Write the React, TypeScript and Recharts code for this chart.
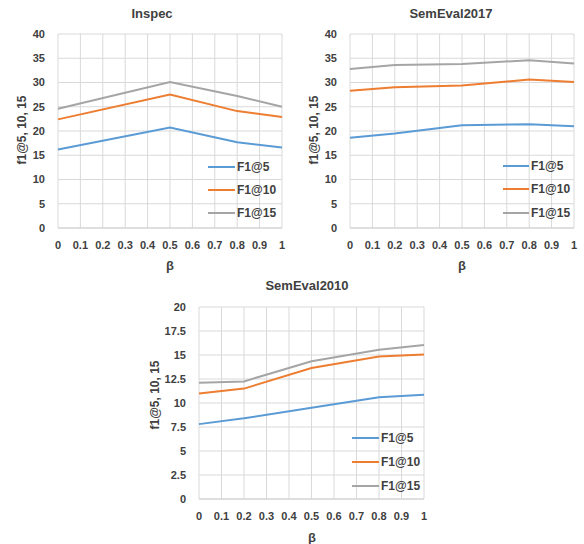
import { LineChart, Line, XAxis, YAxis, CartesianGrid } from 'recharts';

const betas = [0, 0.2, 0.5, 0.8, 1];
const xTicks = [0, 0.1, 0.2, 0.3, 0.4, 0.5, 0.6, 0.7, 0.8, 0.9, 1];
const yTicks40 = [0, 5, 10, 15, 20, 25, 30, 35, 40];
const yTicks20 = [0, 2.5, 5, 7.5, 10, 12.5, 15, 17.5, 20];

const seriesNames = ['F1@5', 'F1@10', 'F1@15'];
const seriesColors = ['#5b9bd5', '#ed7d31', '#a5a5a5'];

// Inspec: no point at 0.2
const inspecF5 = [16.2, null, 20.7, 17.7, 16.6];
const inspecF10 = [22.4, null, 27.5, 24.1, 22.9];
const inspecF15 = [24.6, null, 30.1, 27.2, 25.0];

const sem2017F5 = [18.6, 19.5, 21.2, 21.4, 21.0];
const sem2017F10 = [28.3, 29.0, 29.4, 30.6, 30.1];
const sem2017F15 = [32.8, 33.6, 33.8, 34.6, 33.9];

const sem2010F5 = [7.8, 8.4, 9.5, 10.6, 10.85];
const sem2010F10 = [11.0, 11.5, 13.65, 14.85, 15.05];
const sem2010F15 = [12.1, 12.25, 14.35, 15.55, 16.05];

const font = '"Liberation Sans", Arial, sans-serif';
const textColor = '#404040';

const buildRows = (a: (number | null)[], b: (number | null)[], c: (number | null)[]) =>
  betas.map((beta, i) => ({ beta, f5: a[i], f10: b[i], f15: c[i] }));

const keys = ['f5', 'f10', 'f15'];

interface PanelProps {
  title: string;
  rows: any[];
  yTicks: number[];
  left: number;
  top: number;
  width: number;
  height: number;
  margin: { top: number; right: number; bottom: number; left: number };
  titleX: number;
  titleY: number;
  betaX: number;
  betaY: number;
  yLabelX: number;
  yLabelY: number;
  legendLineX: number;
  legendTextX: number;
  legendRows: number[];
}

const Panel = (p: PanelProps) => {
  const abs = (x: number, y: number) => ({
    position: 'absolute' as const,
    left: p.left + x,
    top: p.top + y,
    fontFamily: font,
    fontWeight: 'bold' as const,
    color: textColor,
    whiteSpace: 'nowrap' as const,
    lineHeight: 1,
  });
  return (
    <>
      <div style={{ position: 'absolute', left: p.left, top: p.top }}>
        <LineChart width={p.width} height={p.height} data={p.rows} margin={p.margin}>
          <CartesianGrid stroke="#d9d9d9" strokeWidth={1} />
          <XAxis
            dataKey="beta"
            type="number"
            domain={[0, 1]}
            ticks={xTicks}
            interval={0}
            height={30}
            tickLine={false}
            tickMargin={7}
            axisLine={{ stroke: '#d0d0d0' }}
            tick={{ fill: textColor, fontSize: 11, fontWeight: 'bold', fontFamily: font }}
          />
          <YAxis
            type="number"
            domain={[p.yTicks[0], p.yTicks[p.yTicks.length - 1]]}
            ticks={p.yTicks}
            interval={0}
            width={40}
            tickLine={false}
            tickMargin={7}
            axisLine={false}
            tick={{ fill: textColor, fontSize: 11, fontWeight: 'bold', fontFamily: font }}
          />
          {keys.map((k, i) => (
            <Line
              key={k}
              dataKey={k}
              name={seriesNames[i]}
              type="linear"
              stroke={seriesColors[i]}
              strokeWidth={2}
              dot={false}
              connectNulls
              isAnimationActive={false}
            />
          ))}
        </LineChart>
      </div>
      <div style={{ ...abs(p.titleX, p.titleY), fontSize: 13, transform: 'translate(-50%, -50%)' }}>{p.title}</div>
      <div style={{ ...abs(p.betaX, p.betaY), fontSize: 13, transform: 'translate(-50%, -50%)' }}>β</div>
      <div
        style={{
          ...abs(p.yLabelX, p.yLabelY),
          fontSize: 12,
          transform: 'translate(-50%, -50%) rotate(-90deg)',
        }}
      >
        f1@5, 10, 15
      </div>
      {seriesNames.map((name, i) => (
        <div key={name}>
          <div
            style={{
              position: 'absolute',
              left: p.left + p.legendLineX,
              top: p.top + p.legendRows[i] - 1,
              width: p.legendTextX - p.legendLineX - 2,
              height: 2,
              background: seriesColors[i],
            }}
          />
          <div style={{ ...abs(p.legendTextX, p.legendRows[i]), fontSize: 12, transform: 'translateY(-50%)' }}>
            {name}
          </div>
        </div>
      ))}
    </>
  );
};

export default function App() {
  return (
    <div style={{ position: 'absolute', left: 0, top: 0, width: 584, height: 544, background: '#fff' }}>
      <Panel
        title="Inspec"
        rows={buildRows(inspecF5, inspecF10, inspecF15)}
        yTicks={yTicks40}
        left={0}
        top={0}
        width={292}
        height={270}
        margin={{ top: 34, right: 10, bottom: 12, left: 18 }}
        titleX={152}
        titleY={13}
        betaX={170}
        betaY={265}
        yLabelX={22}
        yLabelY={130}
        legendLineX={208}
        legendTextX={237}
        legendRows={[167, 190, 213]}
      />
      <Panel
        title="SemEval2017"
        rows={buildRows(sem2017F5, sem2017F10, sem2017F15)}
        yTicks={yTicks40}
        left={292}
        top={0}
        width={292}
        height={270}
        margin={{ top: 34, right: 10, bottom: 12, left: 18 }}
        titleX={159}
        titleY={13}
        betaX={170}
        betaY={265}
        yLabelX={22}
        yLabelY={130}
        legendLineX={211}
        legendTextX={239}
        legendRows={[166, 189, 213]}
      />
      <Panel
        title="SemEval2010"
        rows={buildRows(sem2010F5, sem2010F10, sem2010F15)}
        yTicks={yTicks20}
        left={140}
        top={270}
        width={300}
        height={274}
        margin={{ top: 37, right: 16, bottom: 15, left: 19 }}
        titleX={167}
        titleY={15}
        betaX={172}
        betaY={267}
        yLabelX={15}
        yLabelY={125}
        legendLineX={212}
        legendTextX={241}
        legendRows={[168, 192, 216]}
      />
    </div>
  );
}
